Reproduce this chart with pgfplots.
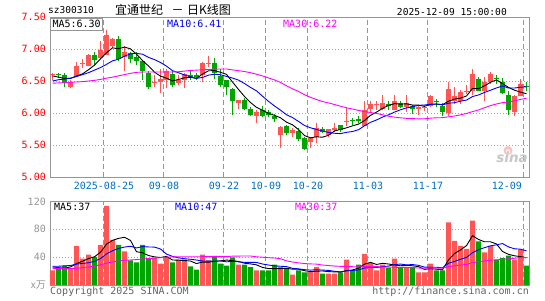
\documentclass[border=0pt]{standalone}
\usepackage{pgfplots}
\pgfplotsset{compat=1.18}
\usepackage{pgfplotstable}
\usepackage{fontspec}
\setmainfont{DejaVu Sans Mono}
\newfontfamily\cjk{Noto Sans CJK SC}
\newfontfamily\logofont{DejaVu Sans}
\definecolor{upred}{RGB}{255,85,85}
\definecolor{dngreen}{RGB}{0,165,0}
\definecolor{pxred}{RGB}{255,0,0}
\definecolor{datebl}{RGB}{0,110,200}
\definecolor{grd}{RGB}{165,165,165}
\definecolor{brd}{RGB}{150,150,150}
\definecolor{vlab}{RGB}{150,150,150}
\definecolor{cpy}{RGB}{100,100,100}
\definecolor{mathirty}{RGB}{255,0,255}
\definecolor{maten}{RGB}{0,0,255}
\newcommand\tx{\fontsize{10}{12}\selectfont}

% up (red) candles: index, open, high, low, close, volume
\pgfplotstableread{
k o h l c v
1 6.59 6.63 6.52 6.60 21.0
4 6.41 6.51 6.39 6.49 24.4
5 6.58 6.79 6.57 6.74 56.4
6 6.76 6.84 6.70 6.77 37.8
7 6.74 6.92 6.73 6.91 43.5
9 6.86 7.12 6.85 6.98 57.8
10 6.91 7.30 6.90 7.22 113.8
11 7.04 7.17 7.02 7.15 65.0
13 6.88 7.04 6.65 6.96 48.3
18 6.47 6.60 6.40 6.48 38.7
19 6.49 6.68 6.32 6.53 30.6
20 6.52 6.69 6.39 6.65 40.2
22 6.47 6.60 6.44 6.52 36.3
23 6.52 6.62 6.39 6.61 36.3
26 6.60 6.79 6.49 6.78 43.5
27 6.77 6.89 6.72 6.78 35.4
32 6.15 6.21 6.07 6.20 29.2
35 5.95 6.05 5.85 6.02 21.0
39 5.655 5.80 5.46 5.785 25.8
41 5.68 5.77 5.63 5.74 14.8
44 5.55 5.62 5.46 5.61 19.6
45 5.62 5.84 5.53 5.76 25.8
47 5.655 5.75 5.63 5.75 16.3
48 5.73 5.84 5.71 5.77 16.3
50 5.86 6.09 5.79 5.88 36.3
53 5.80 6.18 5.79 6.05 44.9
54 6.06 6.19 6.00 6.14 31.5
55 6.12 6.18 6.05 6.13 21.0
56 6.06 6.28 6.04 6.16 29.2
58 6.05 6.28 6.04 6.19 37.8
60 6.10 6.28 6.02 6.16 24.4
62 6.06 6.11 5.97 6.10 18.2
63 6.08 6.12 6.03 6.10 18.2
64 6.11 6.28 6.09 6.26 30.6
67 6.00 6.49 5.95 6.37 89.9
68 6.18 6.41 6.14 6.27 63.6
69 6.18 6.36 6.14 6.33 56.4
70 6.33 6.44 6.30 6.34 52.1
71 6.35 6.68 6.28 6.61 92.7
73 6.35 6.57 6.19 6.49 46.8
74 6.49 6.64 6.46 6.61 56.4
78 6.02 6.28 5.95 6.27 36.3
79 6.27 6.53 6.26 6.46 50.7
}\upt

% down (green) candles
\pgfplotstableread{
k o h l c v
2 6.61 6.63 6.54 6.59 24.4
3 6.60 6.62 6.40 6.47 27.7
8 6.91 6.95 6.75 6.83 40.6
12 7.16 7.20 6.82 6.84 57.8
14 6.93 6.96 6.78 6.84 35.4
15 6.87 6.95 6.75 6.81 32.5
16 6.81 6.83 6.52 6.65 57.8
17 6.63 6.65 6.38 6.41 37.8
21 6.61 6.65 6.40 6.44 32.5
24 6.60 6.65 6.52 6.57 26.8
25 6.60 6.63 6.52 6.56 22.0
28 6.78 6.86 6.53 6.62 42.0
29 6.58 6.68 6.40 6.44 30.6
30 6.51 6.52 6.28 6.40 27.7
31 6.38 6.39 5.97 6.18 39.7
33 6.20 6.23 6.05 6.07 29.2
34 6.06 6.10 5.95 5.97 25.8
36 6.04 6.11 5.93 5.95 21.0
37 6.02 6.05 5.93 5.97 21.0
38 5.95 5.99 5.86 5.90 29.2
40 5.80 5.82 5.65 5.68 22.9
42 5.72 5.76 5.57 5.60 21.0
43 5.61 5.62 5.42 5.43 18.2
46 5.75 5.78 5.69 5.71 16.3
49 5.81 5.82 5.71 5.73 18.2
51 5.89 5.92 5.81 5.87 21.0
52 5.90 5.95 5.84 5.88 29.2
57 6.14 6.18 6.05 6.11 24.4
59 6.16 6.19 6.08 6.10 25.8
61 6.11 6.13 5.98 6.06 25.8
65 6.18 6.22 6.09 6.17 21.0
66 6.11 6.15 5.95 6.02 21.0
72 6.53 6.57 6.34 6.35 62.6
75 6.54 6.59 6.46 6.53 36.3
76 6.49 6.55 6.29 6.32 38.7
77 6.28 6.34 5.97 6.05 42.1
80 6.42 6.49 6.34 6.41 27.7
}\dnt

% moving averages: price MA5, MA10, MA30 and volume MA5, MA10, MA30
\pgfplotstableread{
k m5 m10 m30 v5 v10 v30
1 6.58 6.50 6.466 26 27 24
2 6.56 6.52 6.47 25 27 24
3 6.54 6.53 6.475 24 27.5 24
4 6.54 6.545 6.48 26 28 24
5 6.578 6.57 6.485 30.78 30 24
6 6.612 6.60 6.49 34.14 31 25
7 6.676 6.63 6.50 37.96 32 26
8 6.748 6.67 6.51 40.54 34 27
9 6.846 6.71 6.525 47.22 38 29
10 6.942 6.76 6.545 58.7 44.74 31.5
11 7.018 6.815 6.56 64.14 49.14 33
12 7.004 6.84 6.58 67.0 52.48 34.5
13 7.03 6.889 6.60 68.54 54.54 35.5
14 7.002 6.924 6.62 64.06 55.64 36
15 6.92 6.931 6.635 47.8 53.25 36.5
16 6.82 6.919 6.64 46.36 55.25 37.5
17 6.734 6.869 6.64 42.36 54.68 38
18 6.638 6.834 6.64 40.44 54.49 38.7
19 6.576 6.789 6.64 39.48 51.77 39.2
20 6.544 6.732 6.64 41.02 44.41 40
21 6.502 6.661 6.64 35.96 41.16 40.5
22 6.524 6.629 6.645 35.66 39.01 40.5
23 6.55 6.594 6.655 35.18 37.81 40.6
24 6.558 6.567 6.665 34.42 36.95 40.6
25 6.54 6.542 6.67 30.78 35.9 40.6
26 6.608 6.555 6.675 32.98 34.47 40.7
27 6.66 6.592 6.68 32.8 34.23 40.7
28 6.662 6.606 6.685 33.94 34.56 40.8
29 6.636 6.597 6.688 34.7 34.56 40.8
30 6.604 6.572 6.688 35.84 33.31 40.82
31 6.484 6.546 6.674 35.08 34.03 41.44
32 6.368 6.514 6.661 33.84 33.32 41.6
33 6.258 6.46 6.648 31.28 32.61 41.65
34 6.164 6.40 6.630 30.32 32.51 41.7
35 6.088 6.346 6.606 28.98 32.41 40.52
36 6.042 6.263 6.579 25.24 30.16 39.96
37 5.996 6.182 6.548 23.6 28.72 39.21
38 5.962 6.11 6.517 23.6 27.44 38.83
39 5.925 6.0445 6.477 23.6 26.96 37.76
40 5.857 5.9725 6.4255 23.98 26.48 34.73
41 5.815 5.9285 6.3785 22.74 23.99 33.06
42 5.741 5.8685 6.337 22.74 23.17 31.83
43 5.647 5.8045 6.286 20.54 22.07 30.83
44 5.612 5.7685 6.245 19.3 21.45 30.3
45 5.628 5.7425 6.210 19.88 21.93 30.08
46 5.622 5.7185 6.179 20.18 21.46 28.7
47 5.652 5.6965 6.157 19.24 20.99 27.98
48 5.72 5.6835 6.133 18.86 19.7 27.23
49 5.744 5.678 6.1065 18.58 18.94 26.82
50 5.768 5.698 6.081 20.68 20.28 26.69
51 5.80 5.711 6.062 21.62 20.9 26.31
52 5.826 5.739 6.0405 24.2 21.72 26.07
53 5.882 5.801 6.022 29.92 24.39 26.36
54 5.964 5.854 6.0075 32.58 25.58 26.51
55 6.014 5.891 5.993 29.52 25.1 26.48
56 6.072 5.936 5.9725 31.16 26.39 26.0
57 6.118 5.972 5.950 30.2 27.2 25.64
58 6.146 6.014 5.936 28.78 29.35 25.5
59 6.138 6.051 5.9245 27.64 30.11 25.34
60 6.144 6.079 5.9165 28.32 28.92 25.23
61 6.124 6.098 5.9125 27.64 29.4 24.76
62 6.122 6.12 5.909 26.4 28.3 24.4
63 6.104 6.125 5.910 22.48 25.63 24.03
64 6.136 6.137 5.920 23.44 25.54 24.19
65 6.138 6.141 5.925 22.76 25.54 24.19
66 6.13 6.127 5.927 21.8 24.72 24.19
67 6.184 6.153 5.9405 36.14 31.27 26.49
68 6.218 6.161 5.953 45.22 33.85 27.63
69 6.232 6.184 5.971 50.38 36.91 28.65
70 6.266 6.202 5.993 56.6 39.68 29.63
71 6.384 6.257 6.022 70.94 46.37 32.22
72 6.38 6.282 6.047 65.48 50.81 33.61
73 6.424 6.321 6.082 62.12 53.67 34.56
74 6.48 6.356 6.116 62.12 56.25 35.79
75 6.518 6.392 6.141 58.96 57.78 36.14
76 6.46 6.422 6.162 48.16 59.55 36.89
77 6.40 6.39 6.172 44.06 54.77 37.75
78 6.356 6.39 6.188 41.96 52.04 38.41
79 6.326 6.403 6.213 40.82 51.47 39.5
80 6.302 6.41 6.230 39.1 49.03 39.21
}\mat

\pgfplotsset{
  kax/.style={
    scale only axis, width=479.5pt, xmin=0.58, xmax=80.5,
    axis line style={draw=brd, line width=1pt},
    tick style={draw=none},
    xtick={9.58,19.58,29.58,36.58,43.58,53.58,63.58,79.58},
    xmajorgrids, ymajorgrids,
    x grid style={draw=brd, line width=1pt, dash pattern=on 5pt off 3pt},
    y grid style={draw=grd, line width=1pt, dash pattern=on 1pt off 2pt},
    yticklabel style={font=\tx, inner sep=0pt, anchor=east, xshift=-4pt},
  },
  wick/.style={draw=none, mark=none, forget plot,
    error bars/.cd, y dir=plus, y explicit, error mark=none,
    error bar style={draw=#1, solid, line width=1pt}},
  body/.style={draw=none, mark=none, forget plot,
    error bars/.cd, y dir=plus, y explicit, error mark=none,
    error bar style={draw=#1, solid, line width=5pt}},
}

\begin{document}
\begin{tikzpicture}[x=1pt,y=1pt]
\fill[white] (0,0) rectangle (545,-300);
\path[use as bounding box] (0,0) rectangle (545,-300);

% price panel
\begin{axis}[kax, at={(50pt,-177pt)}, anchor=south west, height=160pt,
  ymin=5, ymax=7.5, ytick={5,5.5,6,6.5,7,7.5},
  yticklabel={\pgfmathprintnumber[fixed,fixed zerofill,precision=2,assume math mode=true]{\tick}},
  yticklabel style={text=pxred},
  xticklabels={2025-08-25,09-08,09-22,10-09,10-20,11-03,11-17,\llap{12-09\hspace{2pt}}},
  xticklabel style={font=\tx, text=datebl, inner sep=0pt, anchor=north, yshift=-5.2pt},
]
\addplot[wick=upred] table[x=k, y=l, y error expr=\thisrow{h}-\thisrow{l}] {\upt};
\addplot[wick=dngreen] table[x=k, y=l, y error expr=\thisrow{h}-\thisrow{l}] {\dnt};
\addplot[body=upred] table[x=k, y=o, y error expr={max(\thisrow{c}-\thisrow{o},0.016)}] {\upt};
\addplot[body=dngreen] table[x=k, y=c, y error expr={max(\thisrow{o}-\thisrow{c},0.016)}] {\dnt};
\addplot[black, line width=0.9pt, mark=none] table[x=k, y=m5] {\mat};
\addplot[maten, line width=0.9pt, mark=none] table[x=k, y=m10] {\mat};
\addplot[mathirty, line width=0.9pt, mark=none] table[x=k, y=m30] {\mat};
\end{axis}

% volume panel
\begin{axis}[kax, at={(50pt,-285pt)}, anchor=south west, height=83.5pt,
  ymin=0, ymax=120, ytick={0,40,80,120},
  yticklabels={{\cjk x万},40,80,120},
  yticklabel style={text=vlab},
  xticklabels={,,,,,,,},
]
\addplot[ybar, bar width=5pt, bar shift=0pt, fill=upred, draw=none] table[x=k, y=v] {\upt};
\addplot[ybar, bar width=5pt, bar shift=0pt, fill=dngreen, draw=none] table[x=k, y=v] {\dnt};
\addplot[black, line width=0.9pt, mark=none] table[x=k, y=v5] {\mat};
\addplot[maten, line width=0.9pt, mark=none] table[x=k, y=v10] {\mat};
\addplot[mathirty, line width=0.9pt, mark=none] table[x=k, y=v30] {\mat};
\end{axis}

% header texts
\node[anchor=base west, inner sep=0pt, font=\fontsize{9.5}{11}\selectfont] at (48,-13.5) {sz300310};
\node[anchor=base west, inner sep=0pt, font=\cjk\fontsize{12}{14}\selectfont] at (115,-14) {宜通世纪};
\node[anchor=base, inner sep=0pt, font=\cjk\fontsize{12}{14}\selectfont] at (177.5,-14) {－};
\node[anchor=base west, inner sep=0pt, font=\cjk\fontsize{12}{14}\selectfont] at (187,-14) {日K线图};
\node[anchor=base east, inner sep=0pt, font=\fontsize{9.6}{11}\selectfont] at (507,-15) {2025-12-09 15:00:00};

% price legend
\node[anchor=north west, fill=white, draw=brd, line width=1pt, inner xsep=2pt, inner ysep=0pt,
      minimum height=12.5pt, text depth=0pt, font=\tx] at (50,-17.5) {MA5:6.30};
\node[anchor=base west, inner sep=0pt, font=\tx, text=maten] at (167,-27.5) {MA10:6.41};
\node[anchor=base west, inner sep=0pt, font=\tx, text=mathirty] at (283,-27.5) {MA30:6.22};

% volume legend
\node[anchor=base west, inner sep=0pt, font=\tx] at (54,-210) {MA5:37};
\node[anchor=base west, inner sep=0pt, font=\tx, text=maten] at (175,-210) {MA10:47};
\node[anchor=base west, inner sep=0pt, font=\tx, text=mathirty] at (295,-210) {MA30:37};

% footer
\node[anchor=base west, inner sep=0pt, font=\tx, text=cpy] at (50,-294) {Copyright 2025 SINA.COM};
\node[anchor=base east, inner sep=0pt, font=\tx, text=cpy] at (529,-294) {http://finance.sina.com.cn};

% sina watermark
\fill[red!25] (508,-150.5) circle (4.5);
\fill[white] (508,-151.5) circle (2.2);
\fill[red!25] (508,-151.5) circle (1.1);
\node[anchor=base east, inner sep=0pt, font=\logofont\bfseries\itshape\fontsize{13.5}{14}\selectfont, text=black!22] at (528,-162) {sina};
\end{tikzpicture}
\end{document}
